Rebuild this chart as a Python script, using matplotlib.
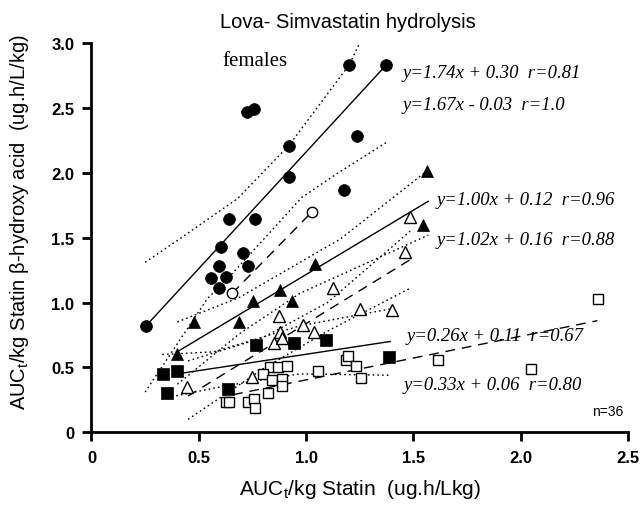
import matplotlib
matplotlib.use("Agg")
import matplotlib.pyplot as plt

plt.rcParams['font.family'] = ['Liberation Sans', 'DejaVu Sans']
plt.rcParams['mathtext.fontset'] = 'custom'
plt.rcParams['mathtext.rm'] = 'Liberation Sans'
plt.rcParams['mathtext.it'] = 'Liberation Sans:italic'

# ---- data ----
circ_f_x = [0.254, 0.557, 0.594, 0.594, 0.627, 0.604, 0.641, 0.762, 0.706, 0.730,
            0.725, 0.758, 0.921, 0.921, 1.177, 1.238, 1.200, 1.373]
circ_f_y = [0.82, 1.19, 1.11, 1.28, 1.20, 1.43, 1.64, 1.64, 1.38, 1.28,
            2.47, 2.49, 2.21, 1.97, 1.87, 2.28, 2.83, 2.83]
circ_o_x = [0.655, 1.028]
circ_o_y = [1.07, 1.70]

tri_f_x = [0.399, 0.478, 0.688, 0.753, 0.879, 0.935, 1.042, 1.545, 1.564]
tri_f_y = [0.60, 0.85, 0.85, 1.01, 1.10, 1.01, 1.30, 1.60, 2.01]
tri_o_x = [0.445, 0.748, 0.851, 0.879, 0.888, 0.874, 0.986, 1.037, 1.126, 1.252,
           1.401, 1.462, 1.485]
tri_o_y = [0.35, 0.43, 0.69, 0.77, 0.73, 0.90, 0.83, 0.77, 1.11, 0.95,
           0.94, 1.39, 1.66]

sq_f_x = [0.333, 0.399, 0.352, 0.636, 0.767, 0.944, 1.093, 1.387]
sq_f_y = [0.45, 0.47, 0.30, 0.33, 0.67, 0.69, 0.71, 0.58]
sq_o_x = [0.832, 0.869, 0.911, 0.800, 0.841, 0.888, 0.888, 0.823, 0.627, 0.641,
          0.730, 0.758, 0.762, 1.056, 1.186, 1.196, 1.233, 1.256, 1.615, 2.049, 2.361]
sq_o_y = [0.50, 0.50, 0.51, 0.45, 0.40, 0.41, 0.36, 0.30, 0.23, 0.23,
          0.23, 0.26, 0.19, 0.47, 0.56, 0.59, 0.51, 0.42, 0.56, 0.49, 1.03]

# regression lines (end points)
fit_circ_f = ([0.254, 1.373], [0.82, 2.83])
fit_circ_o = ([0.655, 1.028], [1.07, 1.70])
fit_tri_f = ([0.399, 1.569], [0.62, 1.78])
fit_tri_o = ([0.450, 1.485], [0.28, 1.33])
fit_sq_f = ([0.399, 1.392], [0.45, 0.70])
fit_sq_o = ([0.660, 2.357], [0.29, 0.86])

# dotted confidence bands
bands = [
    ([0.25, 0.41, 0.68, 0.92, 1.20, 1.25], [1.31, 1.49, 1.80, 2.21, 2.83, 3.0]),
    ([0.25, 0.54, 0.66, 0.98, 1.15, 1.38], [0.31, 1.03, 1.23, 1.81, 2.00, 2.24]),
    ([0.40, 0.69, 1.16, 1.56], [0.85, 1.04, 1.49, 2.01]),
    ([0.40, 0.69, 0.97, 1.57], [0.37, 0.76, 1.07, 1.52]),
    ([0.45, 0.80, 1.10, 1.485], [0.55, 0.73, 1.00, 1.55]),
    ([0.45, 0.80, 1.10, 1.485], [0.10, 0.49, 0.78, 1.11]),
    ([0.33, 0.57, 0.97, 1.39], [0.60, 0.62, 0.82, 0.95]),
    ([0.33, 0.63, 0.97, 1.39], [0.26, 0.36, 0.45, 0.44]),
]

equations = ["y=1.74x + 0.30  r=0.81", "y=1.67x - 0.03  r=1.0",
             "y=1.00x + 0.12  r=0.96", "y=1.02x + 0.16  r=0.88",
             "y=0.26x + 0.11  r=0.67", "y=0.33x + 0.06  r=0.80"]
eq_x = [1.448, 1.448, 1.61, 1.61, 1.466, 1.454]
eq_y = [2.74, 2.49, 1.76, 1.45, 0.71, 0.33]

xticks = [0, 0.5, 1.0, 1.5, 2.0, 2.5]
xticklabels = ["0", "0.5", "1.0", "1.5", "2.0", "2.5"]
yticks = [0, 0.5, 1.0, 1.5, 2.0, 2.5, 3.0]
yticklabels = ["0", "0.5", "1.0", "1.5", "2.0", "2.5", "3.0"]

# ---- figure ----
W, H = 642, 510
fig = plt.figure(figsize=(W / 100, H / 100), dpi=100)
ax = fig.add_axes([91.5 / W, 1 - 433.3 / H, 536.5 / W, 389.3 / H])
ax.set_xlim(0, 2.5)
ax.set_ylim(0, 3.0)

k = 'black'
dot = dict(color=k, lw=1.0, linestyle=(0, (1.2, 2.2)))
for bx, by in bands:
    ax.plot(bx, by, **dot)

ax.plot(*fit_circ_f, color=k, lw=1.0)
ax.plot(*fit_tri_f, color=k, lw=1.0)
ax.plot(*fit_sq_f, color=k, lw=1.0)
dash = dict(color=k, lw=1.0, linestyle=(0, (7, 5)))
ax.plot(*fit_circ_o, **dash)
ax.plot(*fit_tri_o, **dash)
ax.plot(*fit_sq_o, **dash)

ax.plot(circ_f_x, circ_f_y, 'o', ms=8.5, mfc=k, mec=k, mew=0.5, ls='none')
ax.plot(circ_o_x, circ_o_y, 'o', ms=7.5, mfc='white', mec=k, mew=1.0, ls='none')
ax.plot(tri_f_x, tri_f_y, '^', ms=8.5, mfc=k, mec=k, mew=0.5, ls='none')
ax.plot(tri_o_x, tri_o_y, '^', ms=8.0, mfc='white', mec=k, mew=1.0, ls='none')
ax.plot(sq_f_x, sq_f_y, 's', ms=8.0, mfc=k, mec=k, mew=0.5, ls='none')
ax.plot(sq_o_x, sq_o_y, 's', ms=7.5, mfc='white', mec=k, mew=1.0, ls='none')

for s, x, y in zip(equations, eq_x, eq_y):
    ax.text(x, y, s, family='Liberation Serif', style='italic', fontsize=13.4,
            ha='left', va='baseline')
ax.text(0.61, 2.83, "females", family='Liberation Serif', fontsize=15,
        ha='left', va='baseline')
ax.text(2.478, 0.13, "n=36", fontsize=10, ha='right', va='baseline')

for side in ['top', 'right']:
    ax.spines[side].set_visible(False)
for side in ['left', 'bottom']:
    ax.spines[side].set_linewidth(2.0)
ax.tick_params(direction='out', length=6.5, width=2.0, labelsize=12, pad=6)
ax.set_xticks(xticks)
ax.set_xticklabels(xticklabels, fontweight='bold')
ax.set_yticks(yticks)
ax.set_yticklabels(yticklabels, fontweight='bold')

fig.text(360 / W, 1 - 490 / H, r"AUC$_\mathregular{t}$/kg Statin  (ug.h/Lkg)",
         fontsize=15, ha='center', va='center')
fig.text(20 / W, 1 - 222 / H,
         r"AUC$_\mathregular{t}$/kg Statin β-hydroxy acid  (ug.h/L/kg)",
         fontsize=14.5, ha='center', va='center', rotation=90)
fig.text(220 / W, 1 - 28 / H, "Lova- Simvastatin hydrolysis", fontsize=14.5,
         ha='left', va='baseline')

fig.savefig("out.png", dpi=100)
